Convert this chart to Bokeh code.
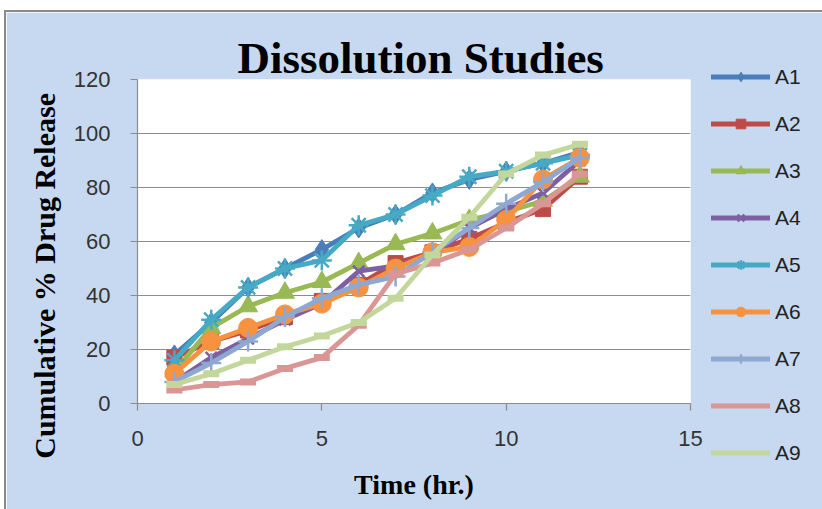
from bokeh.plotting import figure
from bokeh.models import Range1d, Legend, LegendItem, Spacer, FixedTicker, Title
from bokeh.layouts import column, row
from bokeh.embed import file_html
from bokeh.resources import INLINE

# ---- data ----
time_hr = [1, 2, 3, 4, 5, 6, 7, 8, 9, 10, 11, 12]
A1 = [18, 30, 43, 50, 57, 65, 70, 78, 83, 86, 89, 93]
A2 = [17, 23, 27, 32, 38, 44, 52, 56, 61, 67, 72, 84]
A3 = [12, 28, 36, 41, 45, 52, 59, 63, 68, 71, 75, 84]
A4 = [8, 17, 24, 31, 37, 49, 51, 55, 65, 72, 78, 90]
A5 = [16, 31, 43, 50, 53, 66, 70, 77, 84, 86, 89, 92]
A6 = [11, 23, 28, 33, 37, 43, 50, 56, 58, 68, 83, 91]
A7 = [8, 15, 23, 32, 39, 44, 47, 56, 65, 74, 82, 91]
A8 = [5, 7, 8, 13, 17, 29, 48, 52, 57, 65, 74, 85]
A9 = [7, 11, 16, 21, 25, 30, 39, 55, 69, 85, 92, 96]
series_names = ["A1", "A2", "A3", "A4", "A5", "A6", "A7", "A8", "A9"]
series_values = [A1, A2, A3, A4, A5, A6, A7, A8, A9]
x_ticks = [0, 5, 10, 15]
y_ticks = [0, 20, 40, 60, 80, 100, 120]
title_text = "Dissolution Studies"
x_label = "Time (hr.)"
y_label = "Cumulative %  Drug Release"

# ---- styles ----
colors = ["#4A7EBB", "#BE4B48", "#98B954", "#7D60A0", "#46AAC5",
          "#F69240", "#8EA8D2", "#D99694", "#C3D69B"]
markers = ["diamond", "square", "triangle", "x", "asterisk",
           "circle", "cross", "dash", "dash"]
msizes = [20, 15, 19, 16, 20, 19, 20, 16, 16]
mwidths = [1, 1, 1, 2.5, 2.5, 1, 2.5, 7, 7]
BG = "#C6D9F1"
GRID = "#8C8C8C"
EDGE = "#8A8A8A"

p = figure(frame_width=553, frame_height=324,
           x_range=Range1d(0, 15), y_range=Range1d(0, 120),
           output_backend="svg", toolbar_location=None,
           min_border_left=131, min_border_right=132,
           min_border_top=67, min_border_bottom=106)
p.background_fill_color = "white"
p.border_fill_color = BG
p.outline_line_color = None
p.xgrid.visible = False
p.ygrid.ticker = FixedTicker(ticks=y_ticks)
p.ygrid.grid_line_color = GRID
p.ygrid.grid_line_width = 1.2
p.xaxis.ticker = FixedTicker(ticks=x_ticks)
p.yaxis.ticker = FixedTicker(ticks=y_ticks)
for ax in (p.xaxis[0], p.yaxis[0]):
    ax.axis_line_color = GRID
    ax.axis_line_width = 1.2
    ax.major_tick_line_color = GRID
    ax.major_tick_line_width = 1.2
    ax.major_tick_in = 0
    ax.major_tick_out = 7
    ax.minor_tick_line_color = None
    ax.major_label_text_font = "Liberation Sans"
    ax.major_label_text_font_size = "22px"
    ax.major_label_text_color = "#333333"
p.yaxis.major_label_standoff = 20
p.xaxis.major_label_standoff = 20

# x axis label
p.xaxis.axis_label = x_label
p.xaxis.axis_label_text_font = "Liberation Serif"
p.xaxis.axis_label_text_font_style = "bold"
p.xaxis.axis_label_text_font_size = "28px"
p.xaxis.axis_label_text_color = "black"
p.xaxis.axis_label_standoff = 20

# y axis label as a title on the left side
ytitle = Title(text=y_label, align="right", offset=6, standoff=19,
               text_font="Liberation Serif", text_font_style="bold",
               text_font_size="30px", text_color="black")
p.add_layout(ytitle, "left")

# title
p.title.text = title_text
p.title.align = "left"
p.title.offset = 100
p.title.standoff = -7
p.title.text_font = "Liberation Serif"
p.title.text_font_style = "bold"
p.title.text_font_size = "45px"
p.title.text_color = "black"

# invisible spacer entry (keeps the legend block where the reference has it)
blank = p.line([], [], line_alpha=0)
items = [LegendItem(label=" ", renderers=[blank])]
for name, vals, c, m, s, w in zip(series_names, series_values, colors, markers, msizes, mwidths):
    lr = p.line(time_hr, vals, line_color=c, line_width=4.8, line_join="round", line_cap="round")
    if m in ("x", "asterisk", "cross", "dash"):
        sr = p.scatter(time_hr, vals, marker=m, size=s, line_color=c, line_width=w)
    else:
        sr = p.scatter(time_hr, vals, marker=m, size=s, fill_color=c, line_color=c, line_width=w)
    if m == "dash":
        items.append(LegendItem(label=name, renderers=[lr]))
    else:
        items.append(LegendItem(label=name, renderers=[lr, sr]))

legend = Legend(items=items, location="center_left", orientation="vertical",
                glyph_width=59, glyph_height=24, label_height=24, spacing=23,
                padding=0, margin=21, label_standoff=5,
                background_fill_alpha=0, border_line_color=None,
                label_text_font="Liberation Sans", label_text_font_size="21px",
                label_text_color="#222222")
p.add_layout(legend, "right")

gray = {"background-color": EDGE}
layout = row(
    Spacer(width=4, height=509),
    column(
        Spacer(width=818, height=10),
        row(Spacer(width=2, height=499, styles=gray),
            column(Spacer(width=816, height=2, styles=gray), p)),
    ),
)
open("out.html", "w").write(file_html(layout, INLINE))
